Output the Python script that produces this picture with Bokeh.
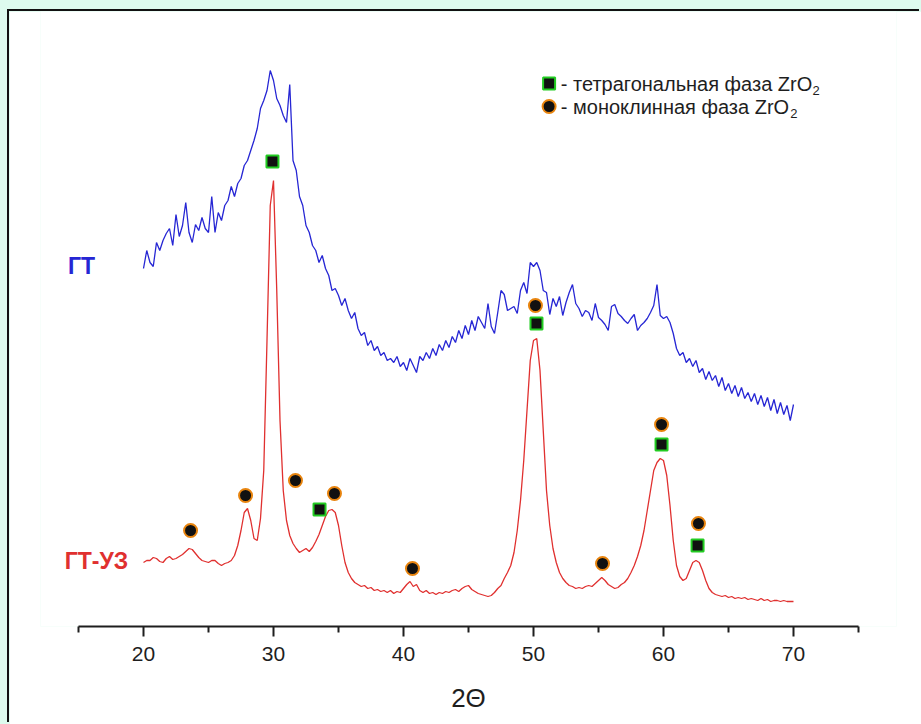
from bokeh.plotting import figure
from bokeh.models import Range1d, FixedTicker, Label
from bokeh.layouts import column
from bokeh.embed import file_html
from bokeh.resources import INLINE
import numpy as np

# 2-theta step scan, 0.25 degree step
TWO_THETA = np.round(np.arange(20.0, 70.0 + 1e-9, 0.25), 2)

# sample "ГТ" (upper pattern, a.u.)
GT = [
    358, 376, 364, 360, 384, 376, 386, 393, 398, 381,
    412, 390, 401, 424, 394, 384, 402, 396, 409, 398,
    394, 430, 394, 414, 406, 421, 426, 440, 430, 443,
    448, 461, 466, 476, 486, 498, 518, 526, 536, 556,
    546, 528, 521, 511, 504, 542, 466, 456, 430, 421,
    401, 394, 381, 376, 364, 371, 358, 351, 336, 338,
    331, 321, 328, 316, 308, 314, 298, 291, 294, 281,
    286, 276, 280, 271, 274, 266, 268, 264, 270, 260,
    264, 256, 268, 261, 254, 270, 266, 274, 268, 278,
    271, 282, 276, 286, 279, 290, 284, 296, 288, 301,
    292, 306, 296, 310, 304, 298, 323, 300, 293, 314,
    336, 332, 316, 318, 320, 313, 336, 344, 333, 364,
    360, 364, 356, 336, 334, 312, 328, 320, 330, 311,
    324, 334, 342, 323, 318, 310, 316, 314, 306, 323,
    309, 306, 302, 296, 320, 322, 313, 310, 306, 303,
    308, 312, 296, 301, 304, 308, 314, 321, 342, 311,
    308, 310, 304, 293, 278, 271, 274, 264, 268, 260,
    266, 254, 258, 247, 255, 246, 251, 240, 249, 236,
    243, 233, 241, 230, 239, 228, 234, 225, 233, 222,
    231, 220, 229, 216, 227, 213, 224, 212, 221, 206,
    222,
]

# sample "ГТ-УЗ" (lower pattern, a.u.)
GT_UZ = [
    64, 66, 66, 69, 68, 65, 64, 68, 70, 67,
    68, 70, 72, 75, 78, 77, 73, 69, 66, 65,
    64, 66, 66, 63, 61, 63, 64, 66, 71, 81,
    96, 114, 118, 106, 88, 86, 108, 156, 286, 421,
    446, 336, 206, 136, 106, 91, 83, 78, 74, 76,
    78, 75, 79, 85, 92, 101, 110, 116, 117, 114,
    101, 81, 64, 54, 48, 44, 42, 40, 41, 38,
    39, 36, 37, 35, 36, 34, 36, 33, 35, 34,
    38, 42, 45, 40, 42, 36, 34, 36, 33, 34,
    32, 34, 33, 35, 34, 36, 37, 35, 38, 40,
    41, 37, 35, 33, 32, 31, 30, 31, 34, 38,
    41, 48, 54, 61, 74, 96, 126, 166, 216, 266,
    286, 288, 256, 196, 136, 101, 78, 64, 54, 48,
    44, 41, 40, 38, 39, 38, 40, 41, 40, 43,
    46, 49, 46, 42, 40, 38, 39, 42, 44, 48,
    54, 61, 70, 81, 96, 116, 136, 156, 164, 168,
    166, 151, 121, 86, 61, 50, 46, 48, 56, 64,
    66, 64, 56, 46, 38, 34, 32, 31, 30, 31,
    29, 30, 28, 29, 28, 29, 27, 28, 27, 26,
    28, 26, 27, 25, 26, 26, 25, 26, 25, 25,
    25,
]

# reflection markers: tetragonal ZrO2 (squares) and monoclinic ZrO2 (circles)
TETRA_X = [29.92, 33.54, 50.23, 59.85, 62.62]
TETRA_Y = [465, 117, 303, 182, 81]
MONO_X = [23.62, 27.85, 31.69, 34.69, 40.69, 50.15, 55.31, 59.85, 62.69]
MONO_Y = [96, 131, 146, 133, 58, 321, 63, 202, 103]

X_TICKS = [20, 30, 40, 50, 60, 70]
X_MINOR = [15, 25, 35, 45, 55, 65, 75]

BLUE = "#2626d4"
RED = "#e0302f"
INK = "#1e1e1e"
FONT = "Liberation Sans"

# the frame reaches past 15..75 on both sides so the sample names fit and the
# axis title stays centred on the drawn axis line, which is bounded to 15..75
p = figure(
    width=912, height=713,
    x_range=Range1d(12.0769, 77.9231), y_range=Range1d(0, 615),
    output_backend="svg", toolbar_location=None,
    min_border_left=31, min_border_right=25,
    min_border_top=0, min_border_bottom=98,
    background_fill_color="white", border_fill_color="white",
    outline_line_color=None,
)
p.yaxis.visible = False
p.grid.visible = False

ax = p.xaxis[0]
ax.bounds = (15, 75)
ax.ticker = FixedTicker(ticks=X_TICKS, minor_ticks=X_MINOR)
ax.axis_line_width = 2
ax.axis_line_color = INK
ax.major_tick_line_color = INK
ax.major_tick_line_width = 2
ax.major_tick_out = 10
ax.major_tick_in = 0
ax.minor_tick_line_color = INK
ax.minor_tick_line_width = 2
ax.minor_tick_out = 6
ax.minor_tick_in = 0
ax.major_label_text_font = FONT
ax.major_label_text_font_size = "21px"
ax.major_label_text_color = INK
ax.major_label_standoff = 10
ax.axis_label = "2Θ"
ax.axis_label_text_font = FONT
ax.axis_label_text_font_style = "normal"
ax.axis_label_text_font_size = "26px"
ax.axis_label_text_color = INK
ax.axis_label_standoff = 19

p.line(TWO_THETA, GT, line_color=BLUE, line_width=1.3)
p.line(TWO_THETA, GT_UZ, line_color=RED, line_width=1.3)

p.scatter(MONO_X, MONO_Y, marker="circle", size=13,
          fill_color="#111111", line_color="#e8840e", line_width=2)
p.scatter(TETRA_X, TETRA_Y, marker="square", size=12,
          fill_color="#111111", line_color="#22cc22", line_width=2)

# sample names
p.add_layout(Label(x=15.23, y=361, text="ГТ", text_font=FONT, text_font_size="23px",
                   text_font_style="bold", text_color=BLUE,
                   text_align="center", text_baseline="middle"))
p.add_layout(Label(x=16.38, y=66, text="ГТ-УЗ", text_font=FONT, text_font_size="23px",
                   text_font_style="bold", text_color=RED,
                   text_align="center", text_baseline="middle"))

# phase key
p.scatter([51.2], [543], marker="square", size=12,
          fill_color="#111111", line_color="#22cc22", line_width=2)
p.scatter([51.2], [520], marker="circle", size=13,
          fill_color="#111111", line_color="#e8840e", line_width=2)
for yy, txt in [(543, "- тетрагональная фаза ZrO"), (520, "- моноклинная фаза ZrO")]:
    p.add_layout(Label(x=52.1, y=yy, text=txt, text_font=FONT, text_font_size="20px",
                       text_color=INK, text_align="left", text_baseline="middle"))
p.add_layout(Label(x=71.46, y=536, text="2", text_font=FONT, text_font_size="13px",
                   text_color=INK, text_align="left", text_baseline="middle"))
p.add_layout(Label(x=69.75, y=513, text="2", text_font=FONT, text_font_size="13px",
                   text_color=INK, text_align="left", text_baseline="middle"))

p.margin = (11, 0, 0, 9)
p.styles = {"box-shadow": "-2px -2px 0 0 #111111"}

page = column(p, width=921, height=724, styles={"background-color": "#ddfbee"})

open("out.html", "w").write(file_html(page, INLINE))
